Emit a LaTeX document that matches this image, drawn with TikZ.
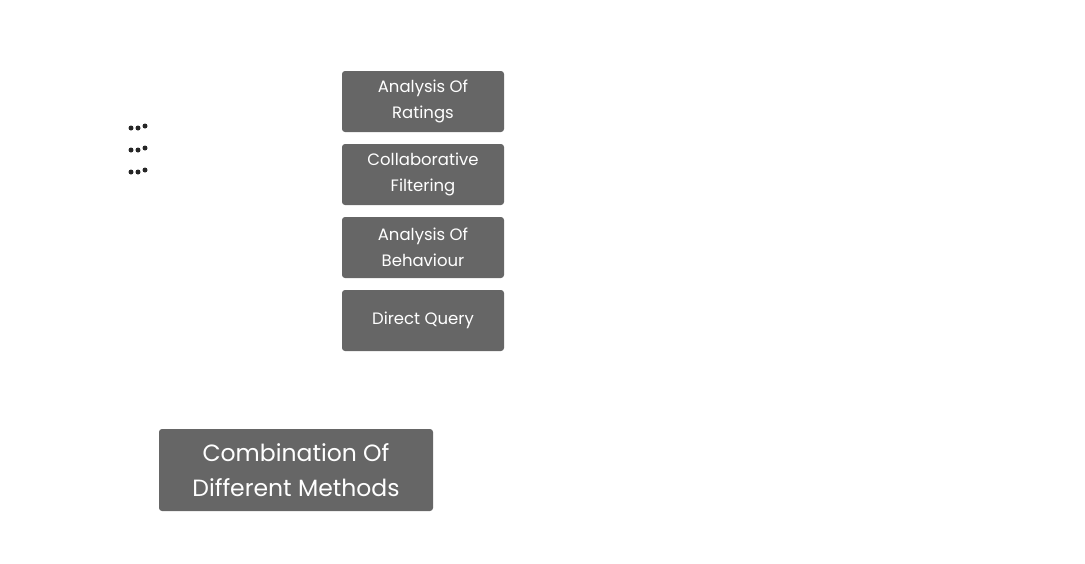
\documentclass[tikz,border=0pt]{standalone}
\usepackage{fontspec}
\setmainfont{Poppins}
\begin{document}
\begin{tikzpicture}[x=1pt,y=-1pt,
 box/.style={fill=boxgray,rounded corners=3pt,text=white,align=center,inner sep=0pt,font=\fontsize{16.5}{26}\selectfont},
 big/.style={box,font=\fontsize{23.5}{35}\selectfont},
 dot/.style={circle,fill=black!85,inner sep=0pt,minimum size=5pt}]
\definecolor{boxgray}{HTML}{666666}
\useasboundingbox (0,0) rectangle (1085,563);
\node[box,minimum width=162pt,minimum height=61pt] (a) at (423,101.5) {Analysis Of\\Ratings};
\node[box,minimum width=162pt,minimum height=61pt] (b) at (423,174.5) {Collaborative\\Filtering};
\node[box,minimum width=162pt,minimum height=61pt] (c) at (423,247.5) {Analysis Of\\Behaviour};
\node[box,minimum width=162pt,minimum height=61pt] (d) at (423,320.5) {Direct Query};
\node[big,minimum width=274pt,minimum height=82pt] (e) at (296,470) {Combination Of\\Different Methods};
\foreach \i/\yy in {1/128,2/150,3/172}{
 \node[dot] (d\i a) at (131,\yy) {};
 \node[dot] (d\i b) at (138,\yy) {};
 \node[dot] (d\i c) at (145,\yy-2) {};
}
\end{tikzpicture}
\end{document}
